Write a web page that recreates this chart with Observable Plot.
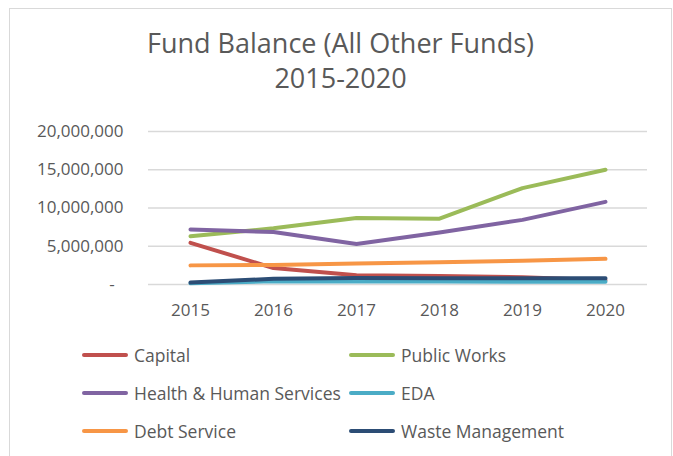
<!DOCTYPE html>
<html>
<head>
<meta charset="utf-8">
<script src="https://cdn.jsdelivr.net/npm/d3@7"></script>
<script src="https://cdn.jsdelivr.net/npm/@observablehq/plot@0.6"></script>
<style>
  html, body { margin: 0; padding: 0; background: #fff; }
  body { width: 673px; height: 456px; overflow: hidden; position: relative; font-family: "Open Sans", sans-serif; color: #595959; }
  #frame { position: absolute; left: 9px; top: 8px; width: 663px; height: 470px; border: 1px solid #d9d9d9; box-sizing: border-box; }
  .title { position: absolute; left: 0; width: 681px; text-align: center; font-size: 27px; line-height: 1; color: #595959; }
  #chart { position: absolute; left: 0; top: 0; }
  .leg { position: absolute; height: 20px; display: flex; align-items: center; font-size: 17.5px; color: #595959; white-space: nowrap; }
  .leg .sw { width: 46px; height: 4px; border-radius: 2px; margin-right: 6px; }
</style>
</head>
<body>
<div id="frame"></div>
<div class="title" style="top:29px">Fund Balance (All Other Funds)</div>
<div class="title" style="top:64px">2015-2020</div>
<div id="chart"></div>
<div id="legend"></div>
<script>
const years = ["2015", "2016", "2017", "2018", "2019", "2020"];
const seriesNames = ["Capital", "Public Works", "Health & Human Services", "EDA", "Debt Service", "Waste Management"];
const seriesColors = ["#C0504D", "#9BBB59", "#8064A2", "#4BACC6", "#F79646", "#2C4D75"];
const capital = [5450000, 2150000, 1200000, 1100000, 950000, 550000];
const publicWorks = [6300000, 7350000, 8700000, 8600000, 12600000, 15000000];
const healthHuman = [7200000, 6850000, 5300000, 6800000, 8450000, 10800000];
const eda = [150000, 420000, 400000, 380000, 360000, 350000];
const debtService = [2500000, 2550000, 2750000, 2900000, 3100000, 3350000];
const wasteMgmt = [250000, 750000, 850000, 830000, 820000, 820000];
const yTicks = [0, 5000000, 10000000, 15000000, 20000000];
const yTickLabels = ["-\u00a0\u00a0", "5,000,000", "10,000,000", "15,000,000", "20,000,000"];

const allSeries = [capital, publicWorks, healthHuman, eda, debtService, wasteMgmt];
const rows = [];
allSeries.forEach((vals, i) => {
  vals.forEach((v, j) => rows.push({series: seriesNames[i], year: years[j], value: v}));
});

const chart = Plot.plot({
  width: 673,
  height: 330,
  marginLeft: 148,
  marginRight: 26,
  marginTop: 131,
  marginBottom: 46,
  style: {fontFamily: "'Open Sans', sans-serif", fontSize: "17px", color: "#595959", background: "transparent"},
  x: {type: "point", domain: years, padding: 0.5, label: null},
  y: {domain: [0, 20000000], label: null},
  color: {domain: seriesNames, range: seriesColors},
  marks: [
    Plot.ruleY(yTicks, {stroke: "#d9d9d9", strokeWidth: 1.5}),
    Plot.axisY({ticks: yTicks, tickSize: 0, tickPadding: 25, tickFormat: d => yTickLabels[yTicks.indexOf(d)], fill: "#595959", fontSize: 17}),
    Plot.axisX({tickSize: 0, tickPadding: 19, fill: "#595959", fontSize: 17}),
    Plot.line(rows, {x: "year", y: "value", z: "series", stroke: "series", strokeWidth: 4, strokeLinecap: "round", strokeLinejoin: "round"})
  ]
});
document.getElementById("chart").appendChild(chart);

const legend = document.getElementById("legend");
const legPos = [[82, 355], [349, 355], [82, 393], [349, 393], [82, 431], [349, 431]];
seriesNames.forEach((name, i) => {
  const d = document.createElement("div");
  d.className = "leg";
  d.style.left = legPos[i][0] + "px";
  d.style.top = (legPos[i][1] - 10) + "px";
  d.innerHTML = `<div class="sw" style="background:${seriesColors[i]}"></div><span></span>`;
  d.querySelector("span").textContent = name;
  legend.appendChild(d);
});
</script>
</body>
</html>
